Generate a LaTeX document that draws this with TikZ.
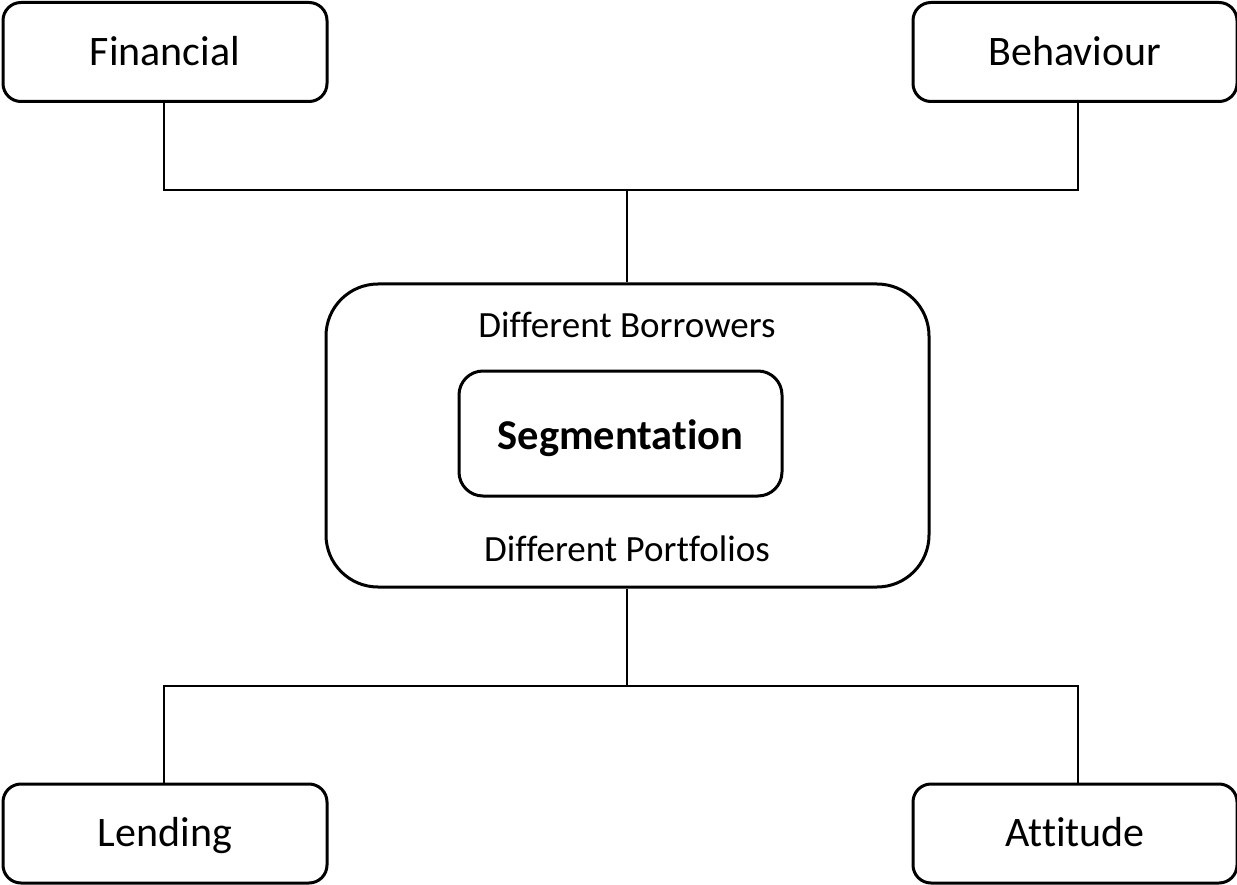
\documentclass[tikz,border=0pt]{standalone}
\usepackage{fontspec}
\setmainfont[RawFeature={-liga}]{Carlito}
\begin{document}
\begin{tikzpicture}[x=1pt,y=-1pt,
  outer/.style={draw,line width=3pt,rounded corners=18pt,minimum width=324pt,minimum height=99pt,inner sep=0pt,text height=26.5pt,text depth=0pt,font=\fontsize{42}{48}\selectfont},
  big/.style={draw,line width=3pt,rounded corners=52pt,minimum width=603pt,minimum height=303pt,inner sep=0pt},
  inner/.style={draw,line width=3pt,rounded corners=24pt,minimum width=323pt,minimum height=125pt,inner sep=0pt},
  segtext/.style={inner sep=0pt,text height=27pt,text depth=0pt,font=\fontsize{42.5}{48}\selectfont\bfseries},
  lbl/.style={font=\fontsize{37}{42}\selectfont,inner sep=0pt,text height=23.3pt,text depth=0pt},
  conn/.style={line width=2pt}]
\useasboundingbox (0,0) rectangle (1237,885);
\node[outer] (fin) at (165,52) {Financial};
\node[outer] (beh) at (1075,52) {Behaviour};
\node[outer] (len) at (165,833.5) {Lending};
\node[outer] (att) at (1075,833.5) {Attitude};
\node[big] (mid) at (627.5,435.5) {};
\node[inner] (seg) at (620.5,433.5) {};
\node[segtext] (segt) at (620.5,436) {Segmentation};
\node[lbl] (bor) at (627,326) {Different Borrowers};
\node[lbl] (por) at (627,550) {Different Portfolios};
\coordinate (tj) at (627,190);
\coordinate (bj) at (627,686);
\draw[conn] (fin.south -| 164,0) |- (tj) -| (beh.south -| 1078,0);
\draw[conn] (tj) -- (mid.north -| tj);
\draw[conn] (mid.south -| bj) -- (bj);
\draw[conn] (len.north -| 164,0) |- (bj) -| (att.north -| 1078,0);
\end{tikzpicture}
\end{document}
